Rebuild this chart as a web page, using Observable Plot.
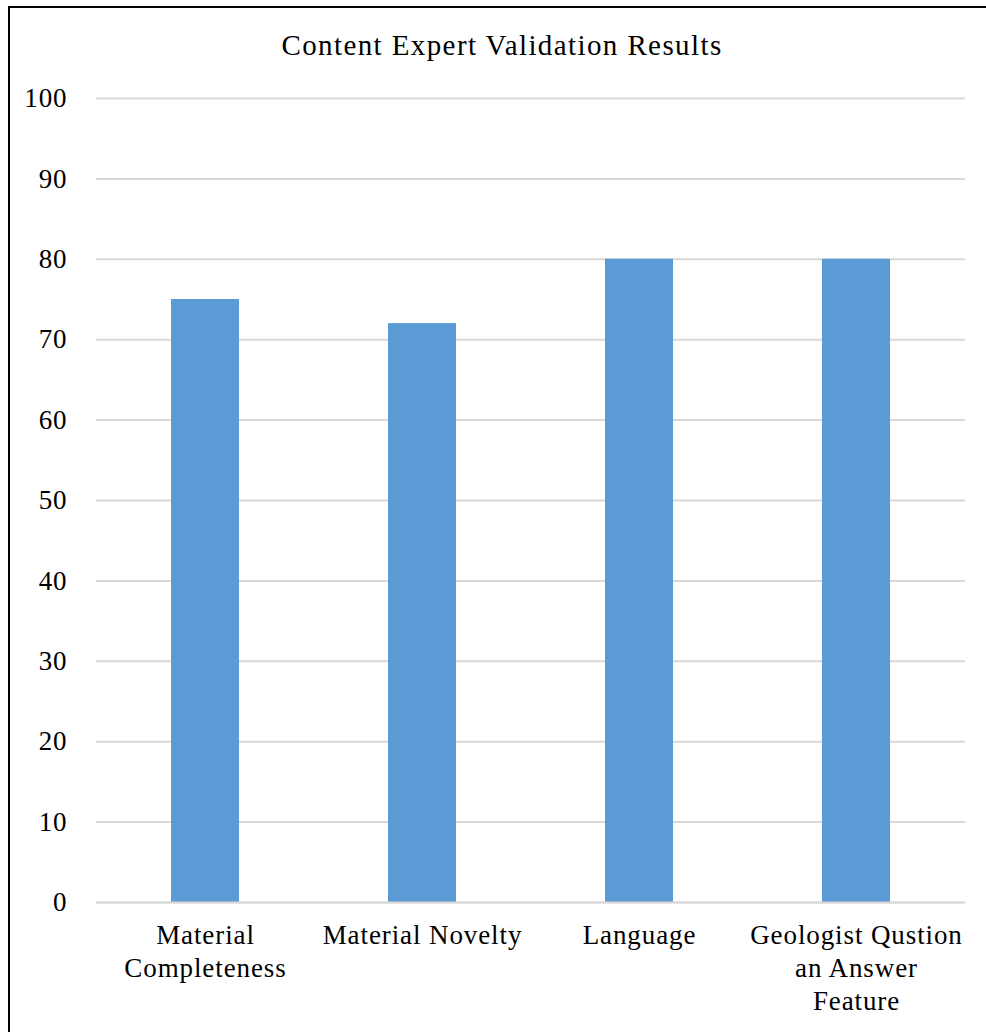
<!DOCTYPE html>
<html><head><meta charset="utf-8">
<script src="https://cdn.jsdelivr.net/npm/d3@7"></script>
<script src="https://cdn.jsdelivr.net/npm/@observablehq/plot@0.6"></script>
<style>
body{margin:0;background:#fff;}
#wrap{position:relative;width:986px;height:1032px;overflow:hidden;font-family:"Liberation Serif",serif;background:#fff;}
#frame{position:absolute;left:8px;top:6px;width:1200px;height:1200px;border:2px solid #000;box-sizing:border-box;}
#title{position:absolute;top:29px;left:0;width:1004px;text-align:center;font-size:29px;line-height:32px;letter-spacing:1.4px;color:#000;}
#chart{position:absolute;left:0;top:0;}
#chart svg text{letter-spacing:0.9px;}
</style>
</head><body>
<div id="wrap"><div id="frame"></div><div id="title">Content Expert Validation Results</div><div id="chart"></div></div>
<script>
const categories = ["Material Completeness", "Material Novelty", "Language", "Geologist Qustion an Answer Feature"];
const values = [75, 72, 80, 80];
const tickLabels = ["Material\nCompleteness", "Material Novelty", "Language", "Geologist Qustion\nan Answer\nFeature"];
const yTicks = [0, 10, 20, 30, 40, 50, 60, 70, 80, 90, 100];

const data = categories.map((c, i) => ({category: c, value: values[i]}));
const labelMap = new Map(categories.map((c, i) => [c, tickLabels[i]]));

const chart = Plot.plot({
  width: 986, height: 1032,
  marginLeft: 96, marginRight: 21, marginTop: 98, marginBottom: 130,
  style: {fontFamily: '"Liberation Serif", serif', fontSize: "27px", color: "#000", background: "transparent", overflow: "visible"},
  x: {domain: categories, paddingInner: 0.687, paddingOuter: 0.3435, label: null},
  y: {domain: [0, 100], label: null},
  marks: [
    Plot.gridY(yTicks, {stroke: "#D9D9D9", strokeOpacity: 1, strokeWidth: 2}),
    Plot.barY(data, {x: "category", y: "value", fill: "#5B9BD5"}),
    Plot.ruleY([0], {stroke: "#D9D9D9", strokeWidth: 2}),
    Plot.axisY({ticks: yTicks, tickSize: 0, tickPadding: 29, label: null, fontSize: 27}),
    Plot.axisX({tickSize: 0, tickPadding: 18, label: null, fontSize: 27, lineHeight: 1.22, tickFormat: d => labelMap.get(d)})
  ]
});
document.getElementById("chart").appendChild(chart);
</script>
</body></html>
